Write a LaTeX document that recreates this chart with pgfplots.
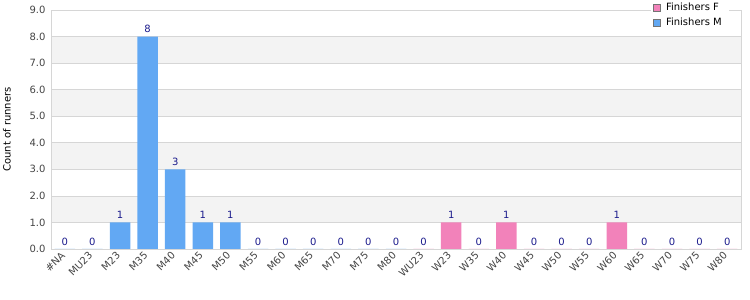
\documentclass[border=0pt]{standalone}
\usepackage{pgfplots}
\pgfplotsset{compat=1.18}
\usepackage{fontspec}
\setmainfont{DejaVu Sans}
\definecolor{barM}{HTML}{62A8F3}
\definecolor{barF}{HTML}{F282BA}
\definecolor{lab}{HTML}{1A1A8C}
\definecolor{tickc}{HTML}{444444}
\definecolor{band}{HTML}{F3F3F3}
\definecolor{frame}{HTML}{D6D6D6}
\begin{document}
\begin{tikzpicture}
\begin{axis}[
  set layers,
  scale only axis, width=690bp, height=239bp,
  xmin=-0.5, xmax=24.5, ymin=0, ymax=9,
  ybar, bar width=20.5bp, bar shift=0pt,
  /pgf/number format/assume math mode=true,
  xtick={0,...,24},
  xticklabels={\#NA,MU23,M23,M35,M40,M45,M50,M55,M60,M65,M70,M75,M80,WU23,W23,W35,W40,W45,W50,W55,W60,W65,W70,W75,W80},
  ytick={0,...,9},
  yticklabel style={/pgf/number format/fixed,/pgf/number format/fixed zerofill,/pgf/number format/precision=1,font=\fontsize{10bp}{12bp}\selectfont,text=tickc,xshift=-2bp},
  xticklabel style={rotate=45,anchor=east,font=\fontsize{10bp}{12bp}\selectfont,text=tickc,xshift=-1bp,yshift=-2bp},
  major tick length=0pt,
  ymajorgrids, grid style={frame,line width=0.6pt},
  axis line style={frame,line width=0.8pt},
  ylabel={Count of runners},
  every axis y label/.style={at={(rel axis cs:0,0.5)},rotate=90,anchor=center,yshift=44bp,font=\fontsize{10bp}{12bp}\selectfont,text=black},
  nodes near coords,
  every node near coord/.append style={font=\fontsize{10bp}{12bp}\selectfont,text=lab,yshift=0bp},
  legend style={at={(1,1)},anchor=north east,xshift=-12bp,yshift=11bp,draw=none,fill=white,
    font=\fontsize{10bp}{12bp}\selectfont,row sep=1.5bp,inner sep=2bp,
    nodes={inner xsep=5bp}},
  legend cell align=left,
  legend image code/.code={\draw[#1,draw=gray!90!black,line width=0.6pt] (0bp,-3.5bp) rectangle (7bp,3.5bp);},
]
\begin{pgfonlayer}{axis background}
\fill[band] (axis cs:-0.5,1) rectangle (axis cs:24.5,2);
\fill[band] (axis cs:-0.5,3) rectangle (axis cs:24.5,4);
\fill[band] (axis cs:-0.5,5) rectangle (axis cs:24.5,6);
\fill[band] (axis cs:-0.5,7) rectangle (axis cs:24.5,8);
\end{pgfonlayer}
\addplot[fill=barF,draw=none] coordinates {(13,0) (14,1) (15,0) (16,1) (17,0) (18,0) (19,0) (20,1) (21,0) (22,0) (23,0) (24,0)};
\addlegendentry{Finishers F}
\addplot[fill=barM,draw=none] coordinates {(0,0) (1,0) (2,1) (3,8) (4,3) (5,1) (6,1) (7,0) (8,0) (9,0) (10,0) (11,0) (12,0)};
\addlegendentry{Finishers M}
\coordinate (ll) at (rel axis cs:0,0);
\coordinate (ur) at (rel axis cs:1,1);
\end{axis}
\pgfresetboundingbox
\path (ll) ++(-51bp,-51bp) coordinate (a);
\path (ur) ++(9bp,10bp) coordinate (b);
\useasboundingbox (a) rectangle (b);
\end{tikzpicture}
\end{document}
